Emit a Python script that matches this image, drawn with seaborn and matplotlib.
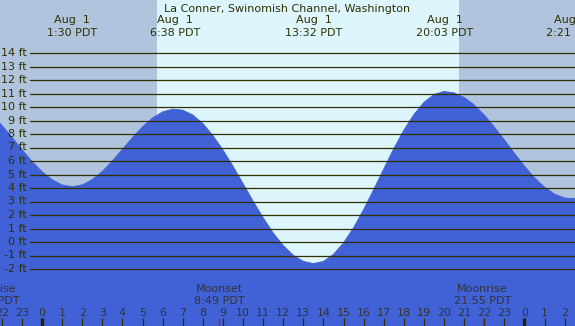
import numpy as np
import pandas as pd
import matplotlib
matplotlib.use("Agg")
import matplotlib.pyplot as plt
import seaborn as sns

# tide height (ft) every half hour, from 22:30 the day before
hours = np.arange(-2.5, 27.5, 0.5)
heights = [9.42, 8.65, 7.77, 6.86, 5.98, 5.21, 4.62, 4.23, 4.10,
           4.23, 4.62, 5.23, 6.00, 6.86, 7.73, 8.53, 9.19, 9.64, 9.84,
           9.77, 9.41, 8.78, 7.90, 6.83, 5.63, 4.34, 3.04, 1.81, 0.68, -0.26, -0.98, -1.43, -1.60,
           -1.44, -0.92, -0.07, 1.06, 2.40, 3.88, 5.41, 6.91, 8.28, 9.44, 10.34, 10.93, 11.15,
           11.05, 10.71, 10.16, 9.42, 8.53, 7.57, 6.58, 5.63, 4.77, 4.07, 3.55, 3.26, 3.21, 3.35]

# high / low tides
tide_times = [1.5, 6.633, 13.533, 20.05, 26.35]
tide_dates = ["Aug  1", "Aug  1", "Aug  1", "Aug  1", "Aug  2"]
tide_clock = ["1:30 PDT", "6:38 PDT", "13:32 PDT", "20:03 PDT", "2:21 PDT"]

# moon
moon_times = [-2.55, 8.817, 21.917]
moon_names = ["Moonrise", "Moonset", "Moonrise"]
moon_clock = ["21:27 PDT", "8:49 PDT", "21:55 PDT"]

# sunrise / sunset
sunrise = 5.72
sunset = 20.75

ft_levels = list(range(-2, 15))
hour_ticks = list(range(-2, 27))

title = "La Conner, Swinomish Channel, Washington"

df = pd.DataFrame({"hour": hours, "ft": heights})

sns.set_theme(style="white")
plt.rcParams["font.family"] = ["DejaVu Sans"]

W, H = 575, 326
x0, pxh = 42, 20.1          # pixel of midnight, pixels per hour
y0, pxf = 242, 13.5         # pixel of 0 ft, pixels per foot
xmin, xmax = -x0 / pxh, (W - x0) / pxh
ymin, ymax = -(H - y0) / pxf, y0 / pxf

night = "#B0C4DE"
day = "#DDF6FD"
water = "#4162D7"
ink = "#303000"

fig = plt.figure(figsize=(W / 100, H / 100), dpi=100)
ax = fig.add_axes([0, 0, 1, 1])
ax.set_xlim(xmin, xmax)
ax.set_ylim(ymin, ymax)
ax.set_axis_off()

ax.axvspan(xmin, xmax, color=night, zorder=0, lw=0)
ax.axvspan(sunrise, sunset, color=day, zorder=0.5, lw=0)

ax.fill_between(df["hour"], ymin - 1, df["ft"], color=water, lw=0, zorder=1)
sns.lineplot(data=df, x="hour", y="ft", color=water, lw=0.6, ax=ax, zorder=1.5)
ax.set_xlim(xmin, xmax)
ax.set_ylim(ymin, ymax)
ax.set_axis_off()

xt = ax.get_xaxis_transform()
yt = ax.get_yaxis_transform()
def fy(p):
    return 1 - p / H

for f in ft_levels:
    ax.axhline(f, xmin=30 / W, xmax=1, color=ink, lw=0.9, zorder=2)
    ax.text(27 / W, f, f"{f} ft", transform=yt, ha="right", va="center",
            fontsize=8, color=ink, zorder=3)

ax.text(287 / W, fy(12), title, transform=ax.transAxes, ha="center",
        va="baseline", fontsize=8, color=ink)
for t, d, c in zip(tide_times, tide_dates, tide_clock):
    ax.text(t, fy(23), d, transform=xt, ha="center", va="baseline", fontsize=8, color=ink)
    ax.text(t, fy(35.5), c, transform=xt, ha="center", va="baseline", fontsize=8, color=ink)

for t, n, c in zip(moon_times, moon_names, moon_clock):
    ax.text(t, fy(292), n, transform=xt, ha="center", va="baseline", fontsize=8, color="#333333")
    ax.text(t, fy(304), c, transform=xt, ha="center", va="baseline", fontsize=8, color="#333333")
    ax.vlines(t, 0, 8 / H, transform=xt, color="red", lw=0.9, zorder=4)

for h in hour_ticks:
    ax.text(h, fy(316), str(h % 24), transform=xt, ha="center", va="baseline",
            fontsize=8, color="#333333")
    if h % 24 == 0:
        ax.vlines(h, 0, 8 / H, transform=xt, color="#222200", lw=2.4, zorder=3)
    else:
        ax.vlines(h, 0, 8 / H, transform=xt, color=ink, lw=0.9, zorder=3)

fig.savefig("out.png", dpi=100)
